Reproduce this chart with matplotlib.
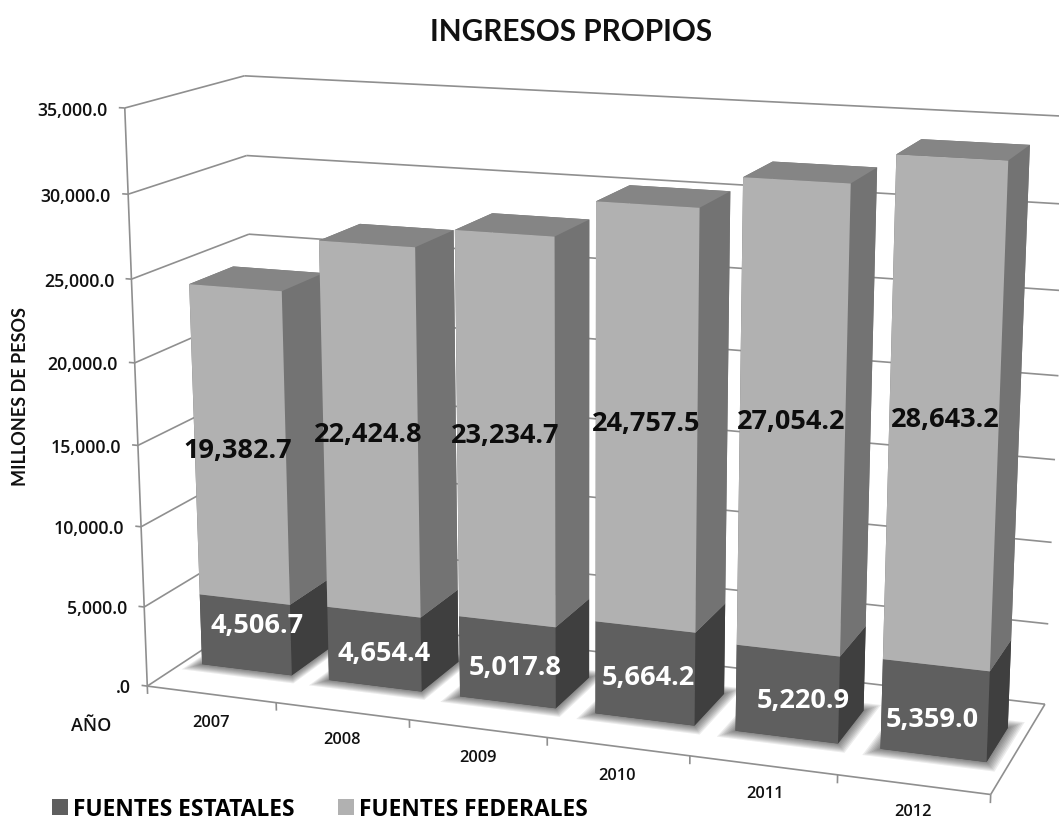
import numpy as np
import matplotlib
matplotlib.use("Agg")
import matplotlib.pyplot as plt
from matplotlib.patches import Patch
from mpl_toolkits.mplot3d.art3d import Poly3DCollection, Line3DCollection

# ---- data ----
years = ["2007", "2008", "2009", "2010", "2011", "2012"]
estatales = [4506.7, 4654.4, 5017.8, 5664.2, 5220.9, 5359.0]
federales = [19382.7, 22424.8, 23234.7, 24757.5, 27054.2, 28643.2]
value_ticks = [0, 5000, 10000, 15000, 20000, 25000, 30000, 35000]
value_tick_labels = [".0", "5,000.0", "10,000.0", "15,000.0", "20,000.0",
                     "25,000.0", "30,000.0", "35,000.0"]

W, H = 1059, 820
ZMAX = 35000.0

BAR_X0, BAR_W = 0.145, 0.71
BAR_Y0, BAR_D = 0.31, 0.38

# ---- camera: calibrated from the chart box (world -> picture pixel) ----
calib_world = np.array([
    (0, 0, 0), (1, 0, 0), (2, 0, 0), (5, 0, 0), (6, 0, 0), (6, 1, 0), (0, 1, 0),
    (0, 0, 35000), (0, 1, 35000), (6, 1, 35000),
    (0, 0, 30000), (0, 1, 30000), (6, 1, 30000),
    (0, 0, 25000), (0, 1, 25000), (6, 1, 25000),
    (5.145, .31, 0), (5.855, .31, 0), (5.855, .69, 0),
    (5.145, .31, 34002), (5.855, .31, 34002), (5.855, .69, 34002), (5.145, .69, 34002),
    (.145, .31, 0), (.855, .31, 0), (.855, .69, 0),
    (.145, .31, 23889), (.855, .31, 23889), (.855, .69, 23889), (.145, .69, 23889)], float)
calib_px = np.array([
    (149, 686), (277, 703), (409, 720.7), (837, 776), (990, 795), (1046, 704), (260, 614),
    (123, 109), (246, 75.7), (1066, 116.5),
    (127.7, 195.3), (248.3, 156), (1064, 205.5),
    (132.3, 280), (250, 234.7), (1061, 292.5),
    (880, 750.7), (986.7, 763.3), (1010, 728),
    (896.7, 156), (1009.3, 162.3), (1032.3, 145.7), (923.3, 140),
    (202.3, 665), (292.7, 675.7), (327.7, 650),
    (188.3, 285.7), (281.7, 292.3), (318, 275), (235.7, 267.3)], float)


def fit_camera(world, uv):
    T = np.diag([1, 1, 1 / ZMAX, 1.0])
    rows = []
    for (x, y, z), (u, v) in zip(world, uv):
        Q = [x, y, z / ZMAX, 1.0]
        rows.append(Q + [0, 0, 0, 0] + [-u * q for q in Q])
        rows.append([0, 0, 0, 0] + Q + [-v * q for q in Q])
    s = np.linalg.svd(np.array(rows))[2][-1].reshape(3, 4)
    return (s / s[2, 3]) @ T


fig = plt.figure(figsize=(W / 100, H / 100), dpi=100, facecolor="white")
ax = fig.add_axes([0, -(W - H) / 2 / H, 1, W / H], projection="3d")
P_PIXELS = fit_camera(calib_world, calib_px)


def get_camera():
    # picture pixels -> the 2D coordinates the 3D axes projects into
    disp = np.c_[calib_px[:, 0], H - calib_px[:, 1]]
    P = fit_camera(calib_world, ax.transData.inverted().transform(disp))
    return np.vstack([P[0], P[1], [-0.05, 1.0, -0.5 / ZMAX, 2.0], P[2]])


def world_text(x, y, z, s, dx=0, dy=0, **kw):
    # a label at a chart position, moved by (dx, dy) picture pixels
    u, v, w = P_PIXELS @ np.array([x, y, z, 1.0])
    return fig.text((u / w + dx) / W, 1 - (v / w + dy) / H, s, ha=kw.pop("ha", "center"),
                    va="center", family=BODY, **kw)


ax.get_proj = get_camera
ax.set_axis_off()
ax.patch.set_visible(False)
ax.computed_zorder = False

GRID = "#8f8f8f"
BODY = "Open Sans"

# ---- walls, floor, ticks ----
segments = []
for v in value_ticks:
    segments.append([(0, 0, v), (0, 1, v)])
    segments.append([(0, 1, v), (6, 1, v)])
    segments.append([(-0.045, 0, v), (0, 0, v)])
segments.append([(0, 0, 0), (0, 0, ZMAX)])
segments.append([(0, 0, 0), (6, 0, 0)])
segments.append([(6, 0, 0), (6, 1, 0)])
for i in range(7):
    segments.append([(i, 0, 0), (i, 0, -500)])
ax.add_collection3d(Line3DCollection(segments, colors=GRID, linewidths=1.2, zorder=1))

# ---- bars ----
LOW = ["#4a4a4a", "#6f6f6f", "#5f5f5f", "#3f3f3f", "#3f3f3f", "#3f3f3f"]
TOP = ["#8a8a8a", "#858585", "#b1b1b1", "#737373", "#737373", "#737373"]
for i, (e, f) in enumerate(zip(estatales, federales)):
    x0 = i + BAR_X0
    # soft shadow on the floor around the base
    for g in np.linspace(0.085, 0.01, 8):
        sq = [(x0 - g, BAR_Y0 - g, 0), (x0 + BAR_W + g, BAR_Y0 - g, 0),
              (x0 + BAR_W + g, BAR_Y0 + BAR_D + g, 0), (x0 - g, BAR_Y0 + BAR_D + g, 0)]
        ax.add_collection3d(Poly3DCollection([sq], facecolors=(0, 0, 0, 0.075),
                                             edgecolors="none", zorder=2 + 2 * i))
    ax.bar3d(x0, BAR_Y0, 0, BAR_W, BAR_D, e, color=LOW, shade=False, zorder=3 + 2 * i)
    ax.bar3d(x0, BAR_Y0, e, BAR_W, BAR_D, f, color=TOP, shade=False, zorder=3.5 + 2 * i)

# ---- data labels (on the bar face, then nudged in pixels) ----
low_nudge = [(11, -10), (10, 4), (8, 5), (3, 4), (16, 6), (-2, 8)]
up_nudge = [(-2, 4), (-2, 3), (-1, 4), (0, 3), (-1, 1), (1, 2)]
for i, (e, f) in enumerate(zip(estatales, federales)):
    xc = i + BAR_X0 + BAR_W / 2
    world_text(xc, BAR_Y0, e / 2, f"{e:,.1f}", *low_nudge[i], color="white", fontsize=19.5,
               fontweight="bold")
    world_text(xc, BAR_Y0, e + f / 2, f"{f:,.1f}", *up_nudge[i], color="#0d0d0d", fontsize=19.5,
               fontweight="bold")

# ---- axis labels ----
for v, s in zip(value_ticks, value_tick_labels):
    world_text(-0.13, 0, v, s, 0, 3, ha="right", color="#111111", fontsize=12.8,
               fontweight="semibold")
year_nudge = [(-1, 0), (-1, 0), (0, 0), (-1, -1), (2, -2), (0, -3.5)]
for i, y in enumerate(years):
    world_text(i + 0.5, 0, -1750, y, *year_nudge[i], color="#111111", fontsize=11.8,
               fontweight="semibold")

fig.text(91 / W, 1 - 726 / H, "AÑO", color="#111111", fontsize=13, family=BODY,
         fontweight="semibold", ha="center", va="center")
fig.text(21 / W, 1 - 397 / H, "MILLONES DE PESOS", color="#111111", fontsize=13, family="Lato",
         fontweight="bold", rotation=90, ha="center", va="center")
fig.text(571 / W, 1 - 32 / H, "INGRESOS PROPIOS", color="#111111", fontsize=21.4, family="Lato",
         fontweight="bold", ha="center", va="center")

# ---- legend ----
handles = [Patch(facecolor="#5f5f5f", label="FUENTES ESTATALES"),
           Patch(facecolor="#b1b1b1", label="FUENTES FEDERALES")]
fig.legend(handles=handles, loc="center left", bbox_to_anchor=(52 / W, 1 - 810 / H), ncols=2,
           frameon=False, handlelength=0.7, handleheight=0.7, handletextpad=0.22,
           columnspacing=1.9, borderpad=0, borderaxespad=0,
           prop={"family": BODY, "weight": "bold", "size": 16.4})

fig.savefig("out.png", dpi=100, facecolor="white")
